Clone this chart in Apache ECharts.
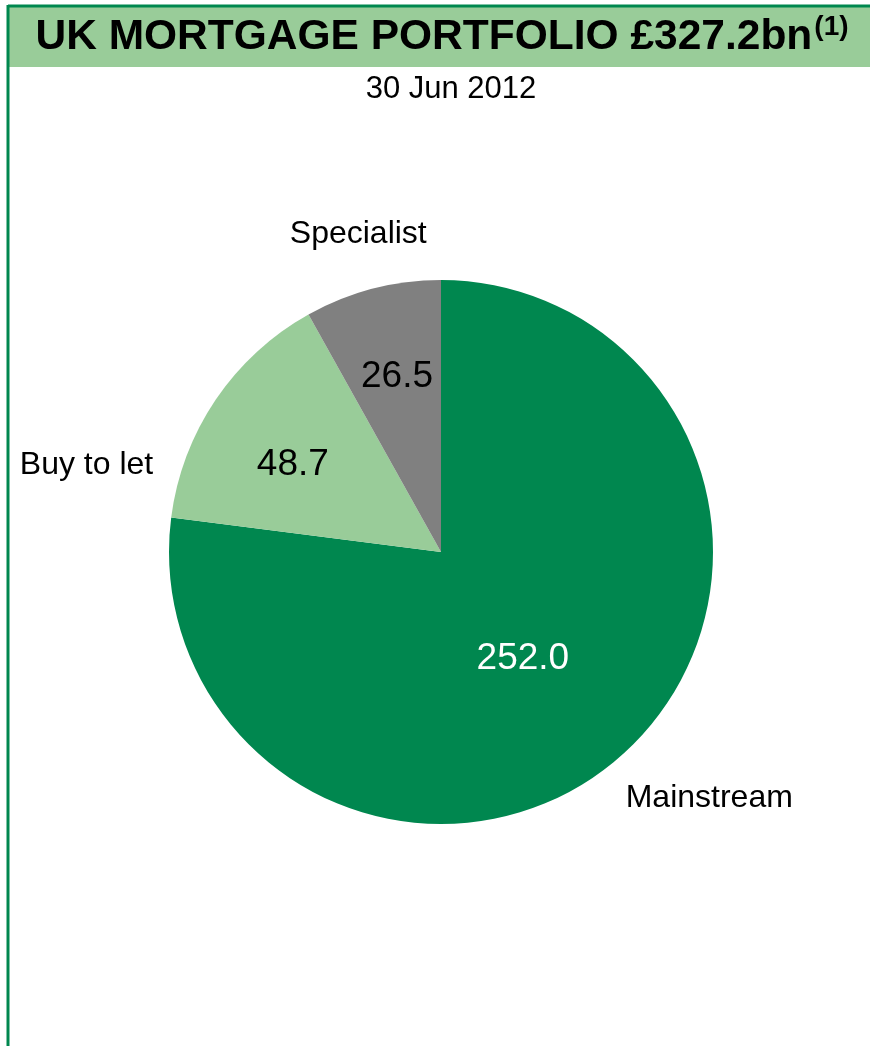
<!DOCTYPE html>
<html>
<head>
<meta charset="utf-8">
<script src="https://cdn.jsdelivr.net/npm/echarts@6/dist/echarts.min.js"></script>
<style>
html,body{margin:0;padding:0;background:#fff;}
#chart{width:870px;height:1046px;}
</style>
</head>
<body>
<div id="chart"></div>
<script>
// Data
const categories = ['Mainstream', 'Buy to let', 'Specialist'];
const values = [252.0, 48.7, 26.5];
const titleText = 'UK MORTGAGE PORTFOLIO £327.2bn';
const titleNote = '(1)';
const subtitleText = '30 Jun 2012';

// Styles
const sliceColors = ['#00874F', '#99CC99', '#808080'];
const valueLabelColors = ['#ffffff', '#000000', '#000000'];
const frameColor = '#00874F';
const bandColor = '#99CC99';
const FONT = '"Liberation Sans", Arial, sans-serif';
// label nudges (px) relative to library-computed positions
const innerNudge = [[-10, 2], [-33, -9], [-9, -41]];
const outerNudge = [[-10, 31], [-45, 74], [63, -40]];

const chart = echarts.init(document.getElementById('chart'), null, {renderer: 'canvas'});

const pieData = categories.map((c, i) => ({
  name: c,
  value: values[i],
  itemStyle: {color: sliceColors[i]},
  label: {color: valueLabelColors[i]}
}));

const option = {
  backgroundColor: '#ffffff',
  animation: false,
  graphic: [
    {type: 'rect', shape: {x: 8, y: 6, width: 870, height: 61}, style: {fill: bandColor}, z: 0},
    {type: 'line', shape: {x1: 8, y1: 6, x2: 870, y2: 6}, style: {stroke: frameColor, lineWidth: 3}, z: 1},
    {type: 'line', shape: {x1: 8, y1: 5, x2: 8, y2: 1046}, style: {stroke: frameColor, lineWidth: 3}, z: 1},
    {
      type: 'text', x: 442, y: 13, z: 2,
      style: {
        text: '{a|' + titleText + '}{b|' + titleNote + '}',
        align: 'center', verticalAlign: 'top',
        rich: {
          a: {fontFamily: FONT, fontSize: 42.5, fontWeight: 'bold', fill: '#000', lineHeight: 49},
          b: {fontFamily: FONT, fontSize: 28, fontWeight: 'bold', fill: '#000', verticalAlign: 'top', lineHeight: 30, padding: [0, 0, 0, 2]}
        }
      }
    },
    {
      type: 'text', x: 451, y: 89, z: 2,
      style: {text: subtitleText, fontFamily: FONT, fontSize: 31, fill: '#000', align: 'center', verticalAlign: 'middle'}
    }
  ],
  series: [
    {
      type: 'pie',
      center: [441, 552],
      radius: [0, 272],
      startAngle: 90,
      clockwise: true,
      avoidLabelOverlap: false,
      silent: true,
      data: pieData,
      label: {show: true, position: 'inside', formatter: p => p.value.toFixed(1), fontFamily: FONT, fontSize: 37},
      labelLine: {show: false},
      labelLayout: p => ({dx: innerNudge[p.dataIndex][0], dy: innerNudge[p.dataIndex][1]})
    },
    {
      type: 'pie',
      center: [441, 552],
      radius: [0, 272],
      startAngle: 90,
      clockwise: true,
      avoidLabelOverlap: false,
      silent: true,
      z: 3,
      data: categories.map((c, i) => ({name: c, value: values[i]})),
      itemStyle: {color: 'rgba(0,0,0,0)'},
      label: {show: true, position: 'outside', formatter: '{b}', fontFamily: FONT, fontSize: 32, color: '#000', distanceToLabelLine: 5},
      labelLine: {show: false, length: 15, length2: 0},
      labelLayout: p => ({dx: outerNudge[p.dataIndex][0], dy: outerNudge[p.dataIndex][1]})
    }
  ]
};
chart.setOption(option);
</script>
</body>
</html>
